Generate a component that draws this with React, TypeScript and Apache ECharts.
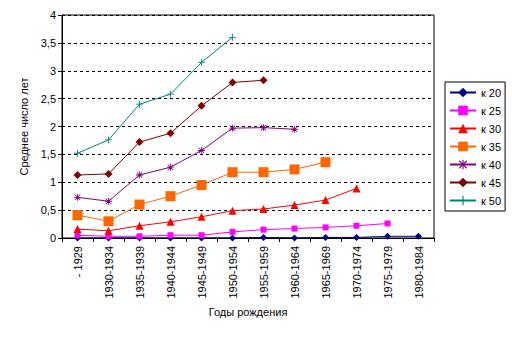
import React, { useEffect, useRef } from "react";
import * as echarts from "echarts";

const categories = ["- 1929", "1930-1934", "1935-1939", "1940-1944", "1945-1949", "1950-1954", "1955-1959", "1960-1964", "1965-1969", "1970-1974", "1975-1979", "1980-1984"];
const k20 = [0, 0, 0, 0, 0, 0, 0.01, 0, 0.01, 0.01, 0.03, 0.03];
const k25 = [0.05, 0.03, 0.03, 0.05, 0.05, 0.11, 0.15, 0.17, 0.19, 0.22, 0.26];
const k30 = [0.16, 0.13, 0.22, 0.29, 0.38, 0.49, 0.52, 0.59, 0.68, 0.89];
const k35 = [0.41, 0.3, 0.6, 0.75, 0.95, 1.18, 1.18, 1.23, 1.36];
const k40 = [0.73, 0.66, 1.13, 1.27, 1.57, 1.97, 1.98, 1.95];
const k45 = [1.13, 1.15, 1.72, 1.88, 2.37, 2.79, 2.83];
const k50 = [1.52, 1.76, 2.4, 2.58, 3.15, 3.6];
const yTicks = { min: 0, max: 4, interval: 0.5 };

const PLUS = "path://M4.4,0h1.2v4.4h4.4v1.2h-4.4v4.4h-1.2v-4.4h-4.4v-1.2h4.4z";
const STAR = "path://M4.4,0h1.2v4.4h4.4v1.2h-4.4v4.4h-1.2v-4.4h-4.4v-1.2h4.4z M1.5,0.7L5,4.2L8.5,0.7L9.3,1.5L5.8,5L9.3,8.5L8.5,9.3L5,5.8L1.5,9.3L0.7,8.5L4.2,5L0.7,1.5z";

const FONT = "'Liberation Sans', Arial, sans-serif";

function mk(name: string, data: number[], color: string, symbol: string, size: number) {
  return {
    name,
    type: "line",
    data,
    symbol,
    symbolSize: size,
    showSymbol: true,
    lineStyle: { color, width: 1 },
    itemStyle: { color, borderWidth: 0 },
    emphasis: { disabled: true },
  };
}

export default function App() {
  const ref = useRef<HTMLDivElement>(null);
  useEffect(() => {
    const chart = echarts.init(ref.current!, null, { renderer: "svg" });
    chart.setOption({
      animation: false,
      backgroundColor: "#ffffff",
      textStyle: { fontFamily: FONT },
      grid: { left: 62, top: 15, right: 78, bottom: 99, show: true, borderColor: "#000", borderWidth: 1, backgroundColor: "transparent", outerBoundsMode: "none" },
      legend: {
        orient: "vertical",
        left: 445,
        top: 82,
        padding: [5, 4, 5, 4],
        itemWidth: 26,
        itemHeight: 12,
        itemGap: 7,
        borderColor: "#000",
        borderWidth: 1,
        textStyle: { fontFamily: FONT, fontSize: 11, color: "#000" },
        data: ["к 20", "к 25", "к 30", "к 35", "к 40", "к 45", "к 50"],
      },
      xAxis: {
        type: "category",
        data: categories,
        boundaryGap: true,
        name: "Годы рождения",
        nameLocation: "middle",
        nameGap: 67,
        nameTextStyle: { fontFamily: FONT, fontSize: 11, color: "#000" },
        axisLine: { lineStyle: { color: "#000", width: 1 } },
        axisTick: { show: true, length: 4, lineStyle: { color: "#000" } },
        axisLabel: { rotate: 90, fontFamily: FONT, fontSize: 11, color: "#000", margin: 8, interval: 0 },
        splitLine: { show: false },
      },
      yAxis: {
        type: "value",
        min: yTicks.min,
        max: yTicks.max,
        interval: yTicks.interval,
        name: "Среднее число лет",
        nameLocation: "middle",
        nameGap: 29,
        nameRotate: 90,
        nameTextStyle: { fontFamily: FONT, fontSize: 11, color: "#000" },
        axisLine: { show: true, lineStyle: { color: "#000", width: 1 } },
        axisTick: { show: true, length: 4, lineStyle: { color: "#000" } },
        axisLabel: { fontFamily: FONT, fontSize: 11, color: "#000", margin: 6, formatter: (v: number) => String(v).replace(".", ",") },
        splitLine: { show: true, lineStyle: { color: "#000", type: [3, 3], width: 1 } },
      },
      series: [
        mk("к 20", k20, "#000080", "diamond", 7),
        mk("к 25", k25, "#FF00FF", "rect", 6),
        mk("к 30", k30, "#FF0000", "triangle", 8),
        mk("к 35", k35, "#FF6600", "rect", 10),
        mk("к 40", k40, "#800080", STAR, 7),
        mk("к 45", k45, "#800000", "diamond", 8),
        mk("к 50", k50, "#008080", PLUS, 7),
      ],
    });
    return () => chart.dispose();
  }, []);
  return <div ref={ref} style={{ position: "absolute", left: 0, top: 0, width: 512, height: 337 }} />;
}
